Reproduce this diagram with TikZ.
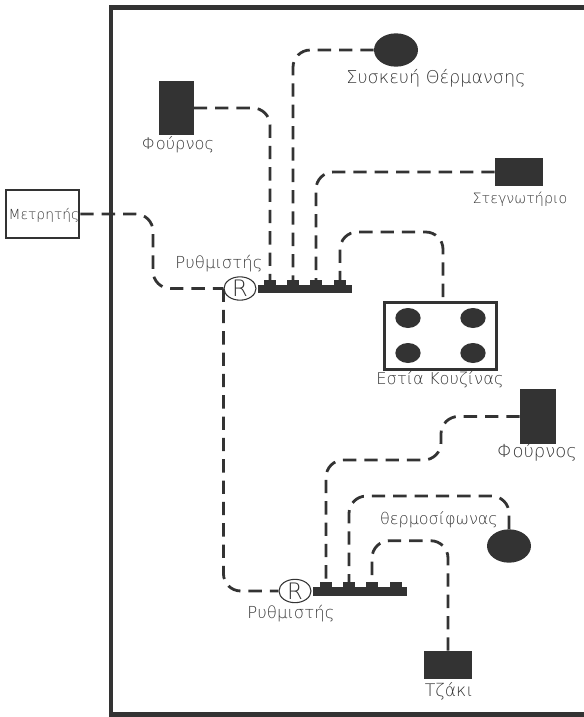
\documentclass[tikz,border=0pt]{standalone}
\usepackage{fontspec}
\setmainfont{DejaVu Sans ExtraLight}
\usetikzlibrary{shapes.geometric}
\definecolor{pipecol}{HTML}{333333}
\definecolor{labelcol}{HTML}{333333}
\tikzset{
  pipe/.style={draw=pipecol,line width=2.1pt,dash pattern=on 10pt off 6pt,rounded corners=13pt},
  solidbox/.style={fill=pipecol,inner sep=0pt,minimum width=#1},
  solidoval/.style={ellipse,fill=pipecol,inner sep=0pt},
  tab/.style={fill=pipecol,inner sep=0pt,minimum width=8.5pt,minimum height=5pt},
  bar/.style={fill=pipecol,inner sep=0pt,minimum width=70.5pt,minimum height=6.5pt},
  regulator/.style={ellipse,draw=pipecol,line width=0.8pt,fill=white,inner sep=-2pt,minimum width=24pt,minimum height=17.5pt,font=\fontsize{17}{17}\selectfont,text=labelcol},
  lbl/.style={text=labelcol,inner sep=0pt,font=\fontsize{#1}{14}\selectfont},
  lbl/.default=12.2
}
\begin{document}
\begin{tikzpicture}[x=0.75pt,y=-0.75pt]
\useasboundingbox (0,0) rectangle (584,717);

    % walls of the house
    \draw[pipecol,line width=3.4pt] (584,7.5) -- (111,7.5) -- (111,714.5) -- (584,714.5);

    \node[draw=pipecol,line width=2pt,inner sep=0pt,minimum width=54.75pt,minimum height=36pt] (meter) at (42.5,214) {};
    \node[lbl=10.4] (meterlbl) at (44,215) {Μετρητής};

    % upper group
    \node[regulator] (regA) at (240,288.5) {R};
    \node[lbl=12.4] (regAlbl) at (219,264) {Ρυθμιστής};
    \node[bar] (barA) at (305,289) {};
    \node[tab] (tabA1) at (270,283.5) {};
    \node[tab] (tabA2) at (293,283.5) {};
    \node[tab] (tabA3) at (316,283.5) {};
    \node[tab] (tabA4) at (340,283.5) {};

    \node[solidbox=26.25pt,minimum height=40.5pt] (ovenA) at (176,108) {};
    \node[lbl=12.2] (ovenAlbl) at (178,145) {Φούρνος};
    \node[solidoval,minimum width=33pt,minimum height=25pt] (heater) at (396,50) {};
    \node[lbl=13.2] (heaterlbl) at (436,78) {Συσκευή Θέρμανσης};
    \node[solidbox=36pt,minimum height=21pt] (dryer) at (519,172) {};
    \node[lbl=10.7] (dryerlbl) at (520,199) {Στεγνωτήριο};

    \node[draw=pipecol,line width=1.8pt,inner sep=0pt,minimum width=84pt,minimum height=50pt] (stove) at (440.5,336) {};
    \node[solidoval,minimum width=19pt,minimum height=15pt] (burner1) at (408,318) {};
    \node[solidoval,minimum width=19pt,minimum height=15pt] (burner2) at (473,318) {};
    \node[solidoval,minimum width=19pt,minimum height=15pt] (burner3) at (408,353) {};
    \node[solidoval,minimum width=19pt,minimum height=15pt] (burner4) at (473,353) {};
    \node[lbl=12.2] (stovelbl) at (440,380) {Εστία Κουζίνας};
    \coordinate (stovetop) at (443,297);

    % lower group
    \node[regulator] (regB) at (295,591) {R};
    \node[lbl=12.4] (regBlbl) at (291,614) {Ρυθμιστής};
    \node[bar] (barB) at (360,591.5) {};
    \node[tab] (tabB1) at (326,585.5) {};
    \node[tab] (tabB2) at (349,585.5) {};
    \node[tab] (tabB3) at (372,585.5) {};
    \node[tab] (tabB4) at (396,585.5) {};

    \node[solidbox=27pt,minimum height=41pt] (ovenB) at (538,416.5) {};
    \node[lbl=13.5] (ovenBlbl) at (537,452) {Φούρνος};
    \node[solidoval,minimum width=33pt,minimum height=25pt] (boiler) at (509,546) {};
    \node[lbl=12] (boilerlbl) at (439,520) {θερμοσίφωνας};
    \node[solidbox=36pt,minimum height=21pt] (hearth) at (448,665) {};
    \node[lbl=13] (hearthlbl) at (449,691) {Τζάκι};

    \coordinate (meterbend) at (153,250);
    \coordinate (ovenBbend) at (441,460);

    \draw[pipe] (meter.east) -| (meterbend) |- (regA.west);
    \draw[pipe] (regA.west) |- (regB.west);

    \draw[pipe] (ovenA.east) -| (tabA1.north);
    \draw[pipe] (heater.west) -| (tabA2.north);
    \draw[pipe] (dryer.west) -| (tabA3.north);
    \draw[pipe] (stovetop) |- +(-50,-65) -| (tabA4.north);

    \draw[pipe] (ovenB.west) -| (ovenBbend) -| (tabB1.north);
    \draw[pipe] (boiler.north) |- +(-80,-33) -| (tabB2.north);
    \draw[pipe] (hearth.north) |- +(-40,-110) -| (tabB3.north);

\end{tikzpicture}
\end{document}
